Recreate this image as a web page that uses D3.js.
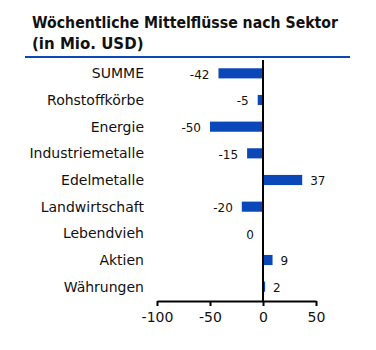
<!DOCTYPE html>
<html>
<head>
<meta charset="utf-8">
<script src="https://cdn.jsdelivr.net/npm/d3@7"></script>
<style>
  body { margin: 0; background: #fff; }
  svg { display: block; }
  text { font-family: "DejaVu Sans", sans-serif; fill: #111; }
</style>
</head>
<body>
<div id="view"></div>
<script>
const categories = ["SUMME", "Rohstoffkörbe", "Energie", "Industriemetalle", "Edelmetalle",
                    "Landwirtschaft", "Lebendvieh", "Aktien", "Währungen"];
const values = [-42, -5, -50, -15, 37, -20, 0, 9, 2];
const tickValues = [-100, -50, 0, 50];
const titleLines = ["Wöchentliche Mittelflüsse nach Sektor", "(in Mio. USD)"];

(function () {
  const W = 376, H = 350;
  const data = categories.map((c, i) => ({ cat: c, v: values[i] }));

  const svg = d3.select("#view").append("svg").attr("width", W).attr("height", H);

  // title
  svg.append("text")
    .attr("x", 32).attr("y", 28)
    .style("font-size", "15px").style("font-weight", "bold")
    .attr("textLength", 306).attr("lengthAdjust", "spacingAndGlyphs")
    .text(titleLines[0]);
  svg.append("text")
    .attr("x", 32).attr("y", 49)
    .style("font-size", "15px").style("font-weight", "bold")
    .text(titleLines[1]);

  svg.append("line")
    .attr("x1", 25).attr("x2", 350).attr("y1", 57).attr("y2", 57)
    .attr("stroke", "#0a47b8").attr("stroke-width", 2);

  const x = d3.scaleLinear().domain([-100, 50]).range([157, 316]);
  const y = d3.scaleBand().domain(categories).range([60, 300]).paddingInner(0.62).paddingOuter(0.31);

  // bars
  svg.selectAll("rect.bar")
    .data(data)
    .join("rect")
    .attr("class", "bar")
    .attr("x", d => x(Math.min(0, d.v)))
    .attr("y", d => y(d.cat))
    .attr("width", d => Math.abs(x(d.v) - x(0)))
    .attr("height", y.bandwidth())
    .attr("fill", "#0a47b8");

  // category labels
  svg.selectAll("text.cat")
    .data(data)
    .join("text")
    .attr("class", "cat")
    .attr("x", 144)
    .attr("y", d => y(d.cat) + y.bandwidth() / 2)
    .attr("dy", "0.35em")
    .attr("text-anchor", "end")
    .style("font-size", "14px")
    .text(d => d.cat);

  // value labels
  svg.selectAll("text.val")
    .data(data)
    .join("text")
    .attr("class", "val")
    .attr("x", d => d.v > 0 ? x(d.v) + 8 : x(Math.min(d.v, 0)) - 9)
    .attr("y", d => y(d.cat) + y.bandwidth() / 2 + 1)
    .attr("dy", "0.35em")
    .attr("text-anchor", d => d.v > 0 ? "start" : "end")
    .style("font-size", "12px")
    .text(d => d.v);

  // zero line
  svg.append("line")
    .attr("x1", x(0)).attr("x2", x(0)).attr("y1", 60).attr("y2", 301)
    .attr("stroke", "#000").attr("stroke-width", 2);

  // x axis
  const ax = svg.append("g")
    .attr("transform", "translate(0,301)")
    .call(d3.axisBottom(x).tickValues(tickValues).tickFormat(d => String(d))
      .tickSize(5).tickSizeOuter(0).tickPadding(6));
  ax.select(".domain").attr("stroke", "#000").attr("stroke-width", 2);
  ax.selectAll(".tick line").attr("stroke", "#000").attr("stroke-width", 2);
  ax.selectAll(".tick text")
    .style("font-family", "'DejaVu Sans', sans-serif")
    .style("font-size", "14px").attr("fill", "#111");
})();
</script>
</body>
</html>
